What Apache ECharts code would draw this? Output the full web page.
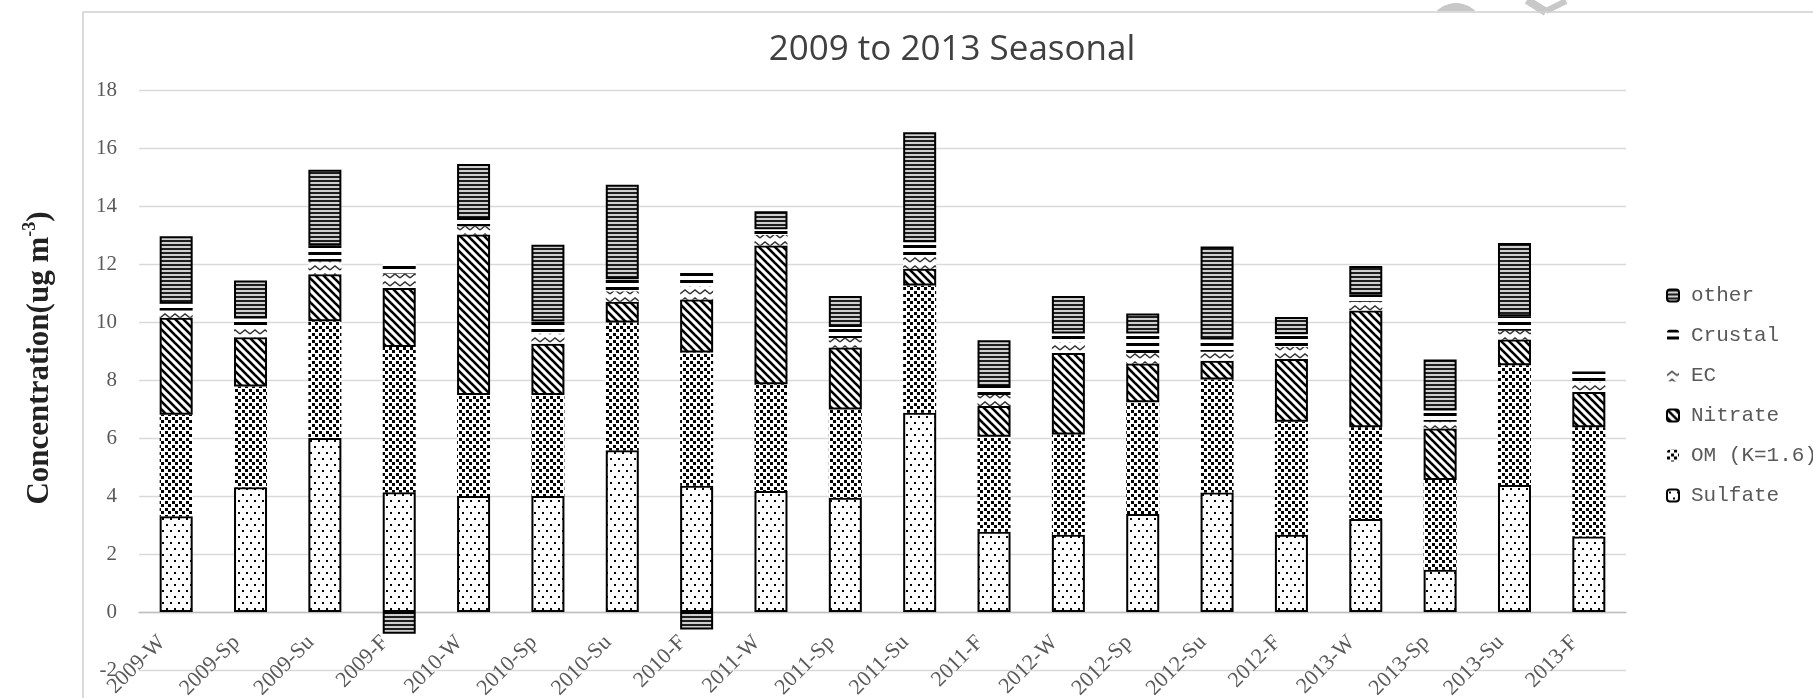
<!DOCTYPE html>
<html>
<head>
<meta charset="utf-8">
<script src="https://cdn.jsdelivr.net/npm/echarts@6/dist/echarts.min.js"></script>
<style>
html,body{margin:0;padding:0;background:#fff;}
#chart{width:1813px;height:698px;}
</style>
</head>
<body>
<div id="chart"></div>
<script>
// ---- data ----
const categories = ['2009-W','2009-Sp','2009-Su','2009-F','2010-W','2010-Sp','2010-Su','2010-F','2011-W','2011-Sp','2011-Su','2011-F','2012-W','2012-Sp','2012-Su','2012-F','2013-W','2013-Sp','2013-Su','2013-F'];
const sulfate = [3.30,4.30,6.00,4.13,4.00,4.00,5.58,4.35,4.17,3.94,6.87,2.77,2.66,3.38,4.12,2.66,3.21,1.46,4.38,2.60];
const om      = [3.50,3.48,4.03,5.01,3.48,3.48,4.40,4.60,3.68,3.04,4.39,3.27,3.46,3.85,3.90,3.90,3.16,3.09,4.13,3.77];
const nitrate = [3.35,1.69,1.62,2.03,5.54,1.77,0.72,1.83,4.79,2.14,0.58,1.06,2.81,1.34,0.64,2.16,4.03,1.78,0.89,1.22];
const ec      = [0.25,0.30,0.44,0.50,0.28,0.35,0.36,0.46,0.36,0.33,0.40,0.38,0.38,0.36,0.31,0.42,0.30,0.23,0.30,0.35];
const crustal = [0.23,0.35,0.56,0.38,0.25,0.42,0.41,0.56,0.20,0.38,0.51,0.28,0.29,0.67,0.43,0.44,0.25,0.39,0.50,0.32];
const other   = [2.33,1.31,2.60,-0.75,1.90,2.64,3.26,-0.60,0.62,1.07,3.79,1.61,1.30,0.69,3.20,0.59,0.98,1.76,2.52,0];
const yTicks  = {min:-2, max:18, interval:2};
const seriesNames = ['Sulfate','OM (K=1.6)','Nitrate','EC','Crustal','other'];
const legendOrder = ['other','Crustal','EC','Nitrate','OM (K=1.6)','Sulfate'];

// ---- patterns ----
function makePattern(w,h,draw){
  const c=document.createElement('canvas'); c.width=w; c.height=h;
  const ctx=c.getContext('2d'); draw(ctx,w,h);
  return {image:c, repeat:'repeat'};
}
const pSulfate = makePattern(8,12,(g,w,h)=>{g.fillStyle='#fff';g.fillRect(0,0,w,h);g.fillStyle='#000';g.fillRect(2,2,2,2);g.fillRect(6,8,2,2);});
const pOM = makePattern(7,7,(g,w,h)=>{g.fillStyle='#fff';g.fillRect(0,0,w,h);g.fillStyle='#000';g.fillRect(0,0,3,3);g.fillRect(4,4,3,3);});
const pNitrate = makePattern(8,8,(g,w,h)=>{g.fillStyle='#fff';g.fillRect(0,0,w,h);g.strokeStyle='#000';g.lineWidth=2.6;
  for(let k=-1;k<=1;k++){g.beginPath();g.moveTo(k*8-2,-2);g.lineTo(k*8+10,10);g.stroke();}});
const pEC = makePattern(10,8,(g,w,h)=>{g.fillStyle='#fff';g.fillRect(0,0,w,h);g.strokeStyle='#333';g.lineWidth=1.4;
  g.beginPath();g.moveTo(0,6);g.lineTo(5,2);g.lineTo(10,6);g.stroke();});
const pCrustal = makePattern(4,7,(g,w,h)=>{g.fillStyle='#fff';g.fillRect(0,0,w,h);g.fillStyle='#000';g.fillRect(0,0,w,3);});
const pOther = makePattern(4,4,(g,w,h)=>{g.fillStyle='#cfcfcf';g.fillRect(0,0,w,h);g.fillStyle='#1e1e1e';g.fillRect(0,0,w,2);});

const styles = {
  'Sulfate':    {color:pSulfate, borderColor:'#000', borderWidth:2},
  'OM (K=1.6)': {color:pOM, borderWidth:0},
  'Nitrate':    {color:pNitrate, borderColor:'#000', borderWidth:2},
  'EC':         {color:pEC, borderWidth:0},
  'Crustal':    {color:pCrustal, borderWidth:0},
  'other':      {color:pOther, borderColor:'#000', borderWidth:2}
};
const dataMap = {'Sulfate':sulfate,'OM (K=1.6)':om,'Nitrate':nitrate,'EC':ec,'Crustal':crustal,'other':other};

const series = seriesNames.map(n=>({
  name:n, type:'bar', stack:'total', barWidth:33,
  itemStyle: styles[n],
  emphasis:{disabled:true},
  data: dataMap[n]
}));

// watermark cap points
const capPts=[];
for(let a=-150;a<=-30;a+=5){const r=a*Math.PI/180;capPts.push([1456+27*Math.cos(r),30+27*Math.sin(r)]);}
const cap2=capPts.filter(p=>p[1]<=12.5);

const chart = echarts.init(document.getElementById('chart'), null, {renderer:'canvas'});
chart.setOption({
  animation:false,
  backgroundColor:'#fff',
  grid:{left:139, right:187, top:90, height:580, containLabel:false, outerBoundsMode:'none'},
  xAxis:{
    type:'category', data:categories,
    offset:-58,
    axisTick:{show:false},
    axisLine:{onZero:false, lineStyle:{color:'#bfbfbf', width:1.3}},
    axisLabel:{rotate:45, margin:13, padding:[0,20,0,0], color:'#595959', fontFamily:'Liberation Serif', fontSize:22, interval:0}
  },
  yAxis:{
    type:'value', min:yTicks.min, max:yTicks.max, interval:yTicks.interval,
    axisLine:{show:false}, axisTick:{show:false},
    splitLine:{lineStyle:{color:'#d9d9d9', width:1.3}},
    axisLabel:{margin:22, color:'#595959', fontFamily:'Liberation Serif', fontSize:21}
  },
  legend:{
    data:legendOrder, orient:'vertical', left:1661, top:280,
    itemWidth:12, itemHeight:12, itemGap:19,
    selectedMode:false,
    textStyle:{color:'#595959', fontFamily:'Liberation Mono', fontSize:21, lineHeight:21, padding:[0,0,0,7]}
  },
  graphic:[
    {type:'polygon', shape:{points:cap2}, style:{fill:'#c8c8c8'}, silent:true},
    {type:'polyline', shape:{points:[[1527,0],[1546,12]]}, style:{stroke:'#c8c8c8', lineWidth:8}, silent:true},
    {type:'polyline', shape:{points:[[1546,11],[1566,1]]}, style:{stroke:'#c8c8c8', lineWidth:6}, silent:true},
    {type:'polyline', shape:{points:[[83,698],[83,12],[1813,12]]}, style:{stroke:'#cfcfcf', lineWidth:1.5, fill:null}, silent:true},
    {type:'text', x:952, y:50, style:{text:'2009 to 2013 Seasonal', align:'center', verticalAlign:'middle',
      fontFamily:'Open Sans', fontSize:35, fill:'#404040'}, silent:true},
    {type:'text', x:40, y:358, rotation:Math.PI/2, style:{
      text:'{a|Concentration(ug m}{s|-3}{a|)}', align:'center', verticalAlign:'middle',
      rich:{a:{fontFamily:'Liberation Serif', fontWeight:'bold', fontSize:31, fill:'#222', lineHeight:38},
            s:{fontFamily:'Liberation Serif', fontWeight:'bold', fontSize:18, fill:'#222', verticalAlign:'top', lineHeight:38, padding:[0,0,14,0]}}
    }, silent:true}
  ],
  series: series
});
</script>
</body>
</html>
